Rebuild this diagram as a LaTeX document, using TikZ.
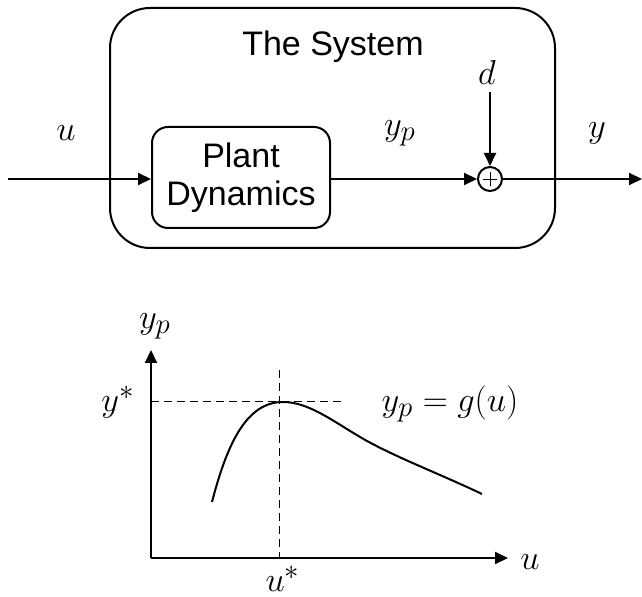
\documentclass[tikz,border=0pt]{standalone}
\usepackage{fontspec}
\setmainfont{Liberation Sans}
\usetikzlibrary{arrows.meta}
\begin{document}
\begin{tikzpicture}[x=0.5pt,y=-0.5pt,
  line/.style={line width=1pt},
  arr/.style={line width=1pt,-{Triangle[length=6.5pt,width=6pt]}},
  dsh/.style={line width=0.5pt,dash pattern=on 4pt off 2.5pt},
  lbl/.style={inner sep=0pt,font=\fontsize{19}{22}\selectfont},
  txt/.style={inner sep=0pt,font=\fontsize{17}{19}\selectfont,align=center}]
\useasboundingbox (0,0) rectangle (642,597);
% outer system box
\node[draw,line,rounded corners=20pt,minimum width=222.5pt,minimum height=120pt] (sys) at (332.5,128) {};
\node[txt] (title) at (333,47) {The System};
% plant
\node[draw,line,rounded corners=8pt,minimum width=89pt,minimum height=50.5pt,txt,inner sep=0pt] (plant) at (241,177.5) {Plant\\Dynamics};
% sum
\node[draw,line,circle,minimum size=12pt,inner sep=0pt] (sum) at (490,179) {};
\draw[line width=0.4pt] ([xshift=-3.5pt]sum.center) -- ([xshift=3.5pt]sum.center);
\draw[line width=0.4pt] ([yshift=-3.5pt]sum.center) -- ([yshift=3.5pt]sum.center);
% signals
\coordinate (in) at (8,179);
\coordinate (out) at (642,179);
\node[lbl] (d) at (487,73) {$d$};
\node[lbl] (ul) at (66,133) {$u$};
\node[lbl] (ypl) at (400,133) {$y_p$};
\node[lbl] (yl) at (597,133) {$y$};
\coordinate (dtop) at (490,92);
\draw[arr] (in) -- (in -| plant.west);
\draw[arr] (plant.east |- sum) -- (sum.west);
\draw[arr] (dtop) -- (sum.north);
\draw[arr] (sum.east) -- (out);
% plot
\coordinate (O) at (151,558);
\coordinate (ytip) at (151,350);
\coordinate (xtip) at (508,558);
\draw[arr] (O) -- (ytip);
\draw[arr] (O) -- (xtip);
\coordinate (ystar) at (151,402);
\coordinate (hend) at (345,402);
\coordinate (vtop) at (279,370);
\coordinate (ustar) at (279,558);
\draw[dsh] (ystar) -- (hend);
\draw[dsh] (vtop) -- (ustar);
\draw[line] (212,502) .. controls (228,440) and (248,402) .. (283,402)
  .. controls (310,402) and (335,423) .. (367,441)
  .. controls (400,459) and (440,474) .. (482,494);
\node[lbl] (yaxl) at (155,326) {$y_p$};
\node[lbl] (ysl) at (118,402) {$y^*$};
\node[lbl] (gl) at (450,404) {$y_p=g(u)$};
\node[lbl] (uaxl) at (530,562) {$u$};
\node[lbl] (usl) at (283,579) {$u^*$};
\end{tikzpicture}
\end{document}
